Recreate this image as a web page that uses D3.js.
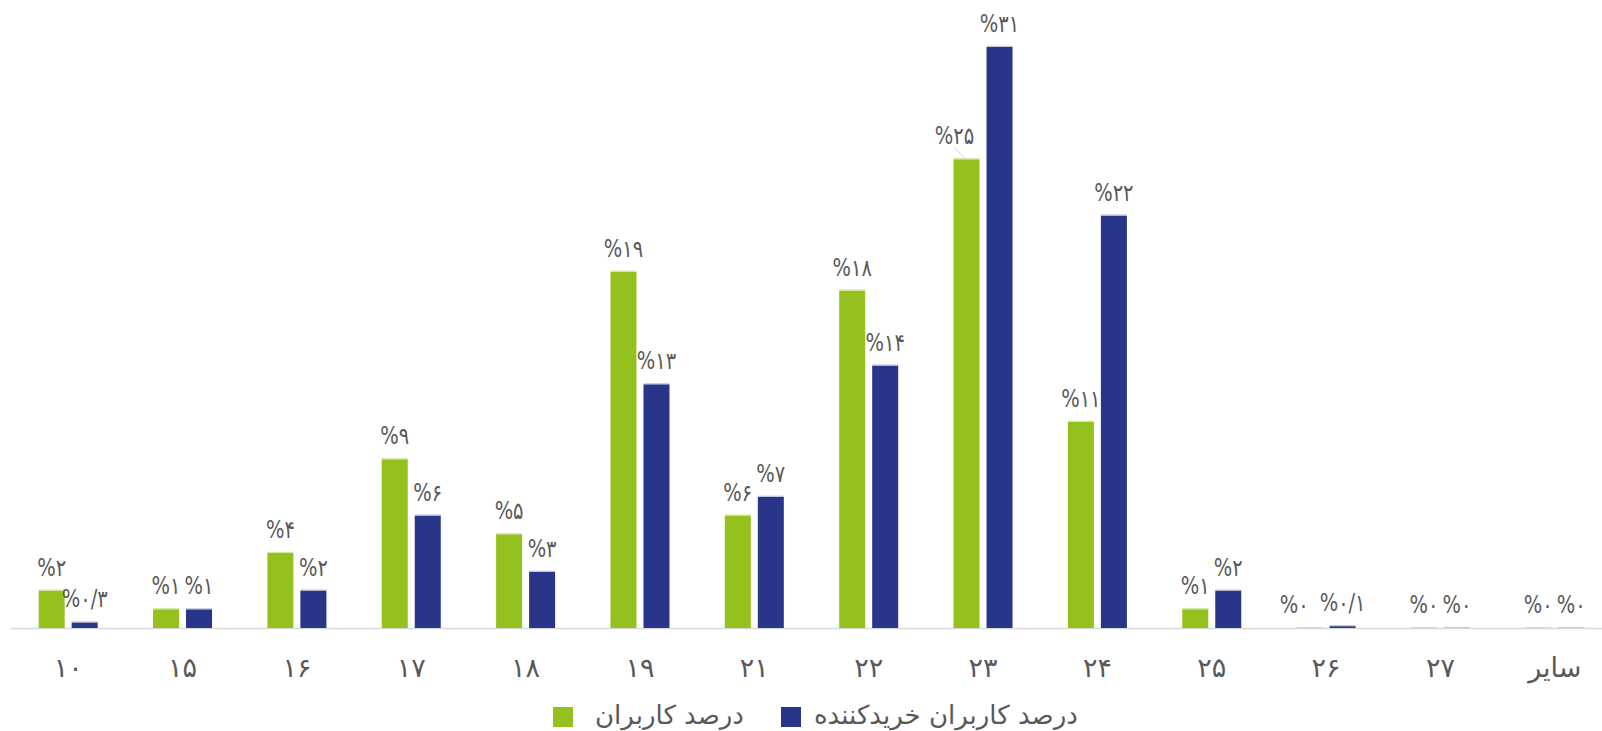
<!DOCTYPE html>
<html lang="fa">
<head>
<meta charset="utf-8">
<script src="https://cdn.jsdelivr.net/npm/d3@7"></script>
<style>
  html, body { margin: 0; padding: 0; background: #ffffff; }
  svg { display: block; }
  text { font-family: "DejaVu Sans", "Noto Sans", sans-serif; fill: #595959; }
  text.val { font-family: "DejaVu Sans Condensed", "DejaVu Sans", sans-serif; font-stretch: condensed; }
</style>
</head>
<body>
<svg id="chart" width="1602" height="731"></svg>
<script>
// Age groups on the category axis
const categories = ["۱۰", "۱۵", "۱۶", "۱۷", "۱۸", "۱۹", "۲۱", "۲۲", "۲۳", "۲۴", "۲۵", "۲۶", "۲۷", "سایر"];

// Share of all users (%)
const usersPct = [2, 1, 4, 9, 5, 19, 6, 18, 25, 11, 1, 0, 0, 0];

// Share of purchasing users (%)
const buyersPct = [0.3, 1, 2, 6, 3, 13, 7, 14, 31, 22, 2, 0.1, 0, 0];

const seriesNames = ["درصد کاربران", "درصد کاربران خریدکننده"];
const seriesColors = ["#95C11F", "#283588"];
const seriesEdge = ["#d3e6a0", "#c3c7e0"];

const W = 1602, H = 731;
const baseY = 628;
const labelSize = 24;
const labelSx = 0.9;   // slightly narrowed value labels
const labelFont = `${labelSize}px "DejaVu Sans Condensed", "DejaVu Sans", sans-serif`;

const svg = d3.select("#chart");

const x0 = d3.scaleBand()
  .domain(categories)
  .range([11, 1612])
  .padding(0);

const groupW = 59;
const x1 = d3.scaleBand()
  .domain([0, 1])
  .range([(x0.bandwidth() - groupW) / 2, (x0.bandwidth() + groupW) / 2])
  .paddingInner(0.2121);

const y = d3.scaleLinear()
  .domain([0, 32])
  .range([baseY, baseY - 32 * 18.75]);

const rows = categories.map((c, i) => ({ cat: c, values: [usersPct[i], buyersPct[i]] }));

// Persian digits, with "/" as the decimal separator
const faDigits = "۰۱۲۳۴۵۶۷۸۹";
const toFa = v => String(v).replace(/\d/g, d => faDigits[+d]).replace(".", "/");
const labelText = v => "%" + toFa(v);

// Ink extents of a centred label, for collision checks
const ctx = document.createElement("canvas").getContext("2d");
ctx.font = labelFont;
ctx.textAlign = "center";
ctx.direction = "ltr";
const ink = (str, cx, by, sx) => {
  const m = ctx.measureText(str);
  return {
    left: cx - m.actualBoundingBoxLeft * sx,
    right: cx + m.actualBoundingBoxRight * sx,
    top: by - m.actualBoundingBoxAscent,
    bottom: by + m.actualBoundingBoxDescent
  };
};
const placeLabel = (sel, cx, by) =>
  sel.attr("transform", `translate(${cx},${by}) scale(${labelSx},1)`);

// Baseline
svg.append("line")
  .attr("x1", 11).attr("x2", W)
  .attr("y1", baseY + 0.5).attr("y2", baseY + 0.5)
  .attr("stroke", "#d9d9d9")
  .attr("stroke-width", 1.5);

const groups = svg.append("g").selectAll("g")
  .data(rows)
  .join("g")
  .attr("transform", d => `translate(${x0(d.cat)},0)`);

const barData = d => d.values.map((v, s) => ({ v, s }));

groups.selectAll("rect")
  .data(barData)
  .join("rect")
  .attr("x", d => x1(d.s))
  .attr("width", x1.bandwidth())
  .attr("y", d => y(d.v))
  .attr("height", d => baseY - y(d.v))
  .attr("fill", d => seriesColors[d.s]);

// Light top edge of each bar (visible as a thin line for empty values)
groups.selectAll("line.edge")
  .data(barData)
  .join("line")
  .attr("class", "edge")
  .attr("x1", d => x1(d.s))
  .attr("x2", d => x1(d.s) + x1.bandwidth())
  .attr("y1", d => y(d.v) - 0.5)
  .attr("y2", d => y(d.v) - 0.5)
  .attr("stroke", d => seriesEdge[d.s])
  .attr("stroke-width", 1.2);

// Value labels
groups.selectAll("text.val")
  .data(barData)
  .join("text")
  .attr("class", "val")
  .attr("text-anchor", "middle")
  .attr("direction", "ltr")
  .attr("font-size", labelSize)
  .text(d => labelText(d.v))
  .each(function (d) {
    placeLabel(d3.select(this), x1(d.s) + x1.bandwidth() / 2, y(d.v) - 15);
  });

// Keep the first label of a pair clear of the second bar and of the second label
groups.each(function (row) {
  const g = d3.select(this);
  const t = g.selectAll("text.val").nodes();
  const c0 = x1(0) + x1.bandwidth() / 2, c1 = x1(1) + x1.bandwidth() / 2;
  const by0 = y(row.values[0]) - 15, by1 = y(row.values[1]) - 15;
  const a = ink(labelText(row.values[0]), c0, by0, labelSx);
  const b = ink(labelText(row.values[1]), c1, by1, labelSx);
  const aWide = ink(labelText(row.values[0]), c0, by0, 1);   // with clearance
  const navyX = x1(1);
  let shift = 0, leader = false;
  if (aWide.right > navyX && y(row.values[1]) < a.bottom) {
    shift = (navyX - 13) - a.right;
    leader = true;
  }
  const vOverlap = a.top < b.bottom && b.top < a.bottom;
  if (vOverlap && b.left - (a.right + shift) < 7.5) {
    shift -= (a.right + shift + 16) - b.left;
  }
  if (shift !== 0) {
    const cx = c0 + shift;
    placeLabel(d3.select(t[0]), cx, by0);
    if (leader) {
      g.insert("line", "text")
        .attr("x1", cx)
        .attr("y1", a.bottom + 3)
        .attr("x2", c0 - 1)
        .attr("y2", y(row.values[0]))
        .attr("stroke", "#c8c8c8")
        .attr("stroke-width", 0.8);
    }
  }
});

// Category axis labels
const xAxis = d3.axisBottom(x0).tickSize(0).tickPadding(0);
const axisG = svg.append("g")
  .attr("transform", `translate(0,${baseY})`)
  .call(xAxis);
axisG.select(".domain").remove();
axisG.selectAll("text")
  .attr("y", 49)
  .attr("dy", 0)
  .attr("font-size", 27)
  .style("font-family", "'DejaVu Sans', sans-serif")
  .attr("fill", "#595959");

// Legend
const legendItems = [
  { s: 0, x: 553, tx: 42, label: seriesNames[0] },
  { s: 1, x: 781, tx: 33, label: seriesNames[1] }
];
const lg = svg.append("g").selectAll("g")
  .data(legendItems)
  .join("g")
  .attr("transform", d => `translate(${d.x},707)`);
lg.append("rect")
  .attr("width", 20).attr("height", 20)
  .attr("fill", d => seriesColors[d.s]);
lg.append("text")
  .attr("x", d => d.tx)
  .attr("y", 17)
  .attr("font-size", 26)
  .text(d => d.label);
</script>
</body>
</html>
